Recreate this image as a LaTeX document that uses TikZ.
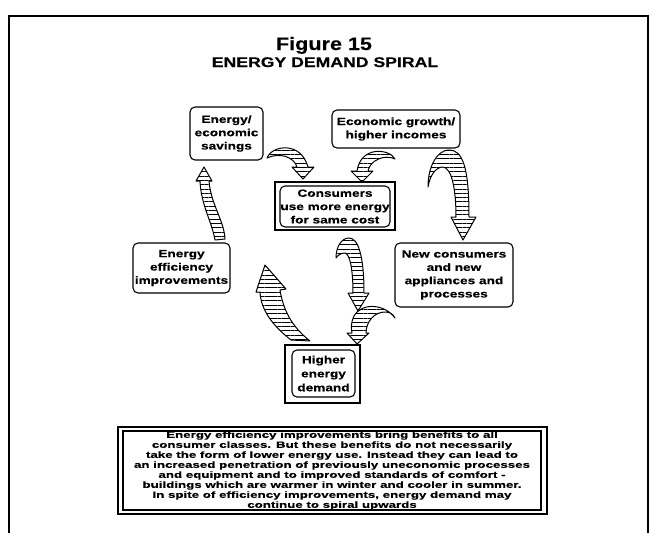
\documentclass[tikz,border=0pt]{standalone}
\usepackage{fontspec}
\setmainfont{Liberation Sans}
\newfontfamily\titlefont[FakeStretch=1.2,FakeBold=0.3]{Liberation Sans}
\newfontfamily\subtitlefont[FakeStretch=1.26,FakeBold=0.3]{Liberation Sans}
\newfontfamily\boxfont[FakeStretch=1.3,FakeBold=0.4]{Liberation Sans}
\newfontfamily\notefont[FakeStretch=1.48,FakeBold=0.4]{Liberation Sans}
\usetikzlibrary{patterns.meta}
\begin{document}
\begin{tikzpicture}[x=1pt,y=-1pt,
  box/.style={draw, line width=1.1pt, rounded corners=5pt, align=center,
    font=\boxfont\bfseries\fontsize{10.5}{13.3}\selectfont, inner sep=0pt},
  outerbox/.style={draw, line width=1.1pt, inner sep=0pt},
  arr/.style={draw, line width=1pt, line join=round,
    pattern={Lines[angle=0,distance=4.3pt,line width=0.85pt]}},
  frame/.style={line width=2pt}
]
\useasboundingbox (0,0) rectangle (657,533);
\draw[frame] (9,533) -- (9,16) -- (648,16) -- (648,533);

\node[font=\titlefont\bfseries\fontsize{18}{20}\selectfont, anchor=base] (t1) at (324,50) {Figure 15};
\node[font=\subtitlefont\bfseries\fontsize{14}{16}\selectfont, anchor=base] (t2) at (325,67) {ENERGY DEMAND SPIRAL};

% boxes
\node[box, minimum width=73pt, minimum height=53pt] (A) at (226.5,133.5) {Energy/\\economic\\savings};
\node[box, minimum width=128pt, minimum height=38pt] (B) at (396,129) {Economic growth/\\higher incomes};
\node[outerbox, minimum width=120pt, minimum height=48pt] (Co) at (335,206) {};
\node[box, minimum width=110pt, minimum height=41pt] (C) at (335,206.5) {Consumers\\use more energy\\for same cost};
\node[box, minimum width=97pt, minimum height=50pt] (D) at (181.5,268) {Energy\\efficiency\\improvements};
\node[box, minimum width=118pt, minimum height=64pt] (E) at (454,275) {New consumers\\and new\\appliances and\\processes};
\node[outerbox, minimum width=75pt, minimum height=58pt] (Fo) at (322.5,374) {};
\node[box, minimum width=63pt, minimum height=47pt, font=\boxfont\bfseries\fontsize{10.5}{14}\selectfont] (F) at (323.5,373.5) {Higher\\energy\\demand};

% bottom text box
\node[outerbox, minimum width=429pt, minimum height=87pt] (No) at (332.5,470.5) {};
\node[outerbox, minimum width=418pt, minimum height=79pt, align=center,
  font=\notefont\bfseries\fontsize{9}{10}\selectfont] (N) at (332,470.5)
 {Energy efficiency improvements bring benefits to all\\
  consumer classes. But these benefits do not necessarily\\
  take the form of lower energy use. Instead they can lead to\\
  an increased penetration of previously uneconomic processes\\
  and equipment and to improved standards of comfort -\\
  buildings which are warmer in winter and cooler in summer.\\
  In spite of efficiency improvements, energy demand may\\
  continue to spiral upwards};

% arrows
% 1: savings -> consumers
\draw[arr] (267,158) .. controls (272,145) and (301,141) .. (308,167) -- (314,167) -- (303,179) -- (292,167) -- (297,167) .. controls (294,157) and (280,152) .. (267,158) -- cycle;
% 2: growth -> consumers
\draw[arr] (395,159) .. controls (390,149) and (361,145) .. (357,171) -- (351,171) -- (362,182) -- (373,171) -- (368,171) .. controls (370,160) and (385,154) .. (395,159) -- cycle;
% 3: growth -> new consumers
\draw[arr] (428,187) .. controls (428,165) and (438,150) .. (449,150) .. controls (462,150) and (469,165) .. (469,217) -- (476,217) -- (463,240) -- (451,217) -- (456,217) .. controls (456,190) and (452,168) .. (443,167) .. controls (436,167) and (430,175) .. (428,187) -- cycle;
% 4: efficiency -> savings
\draw[arr] (204,167) -- (212,181) -- (209,181) .. controls (211,205) and (224,220) .. (225,239) -- (215,240) .. controls (212,222) and (201,205) .. (200,181) -- (196,181) -- cycle;
% 5: demand -> efficiency
\draw[arr] (265,265) -- (286,289) -- (280,290) .. controls (284,315) and (296,330) .. (310,341) -- (291,340) .. controls (272,325) and (261,310) .. (260,292) -- (256,292) -- cycle;
% 6a: consumers -> demand
\draw[arr] (336,258) .. controls (336,246) and (342,238) .. (349,238) .. controls (358,238) and (364,255) .. (364,293) -- (369,293) -- (358,311) -- (348,293) -- (353,293) .. controls (353,270) and (350,254) .. (345,253) .. controls (341,253) and (338,255) .. (336,258) -- cycle;
% 6b: new consumers -> demand
\draw[arr] (395,318) .. controls (385,304) and (362,302) .. (354,316) .. controls (351,322) and (351,328) .. (352,333) -- (347,333) -- (357,344) -- (369,333) -- (366,333) .. controls (366,322) and (374,312) .. (385,312) .. controls (390,312) and (393,314) .. (395,318) -- cycle;
\end{tikzpicture}
\end{document}
